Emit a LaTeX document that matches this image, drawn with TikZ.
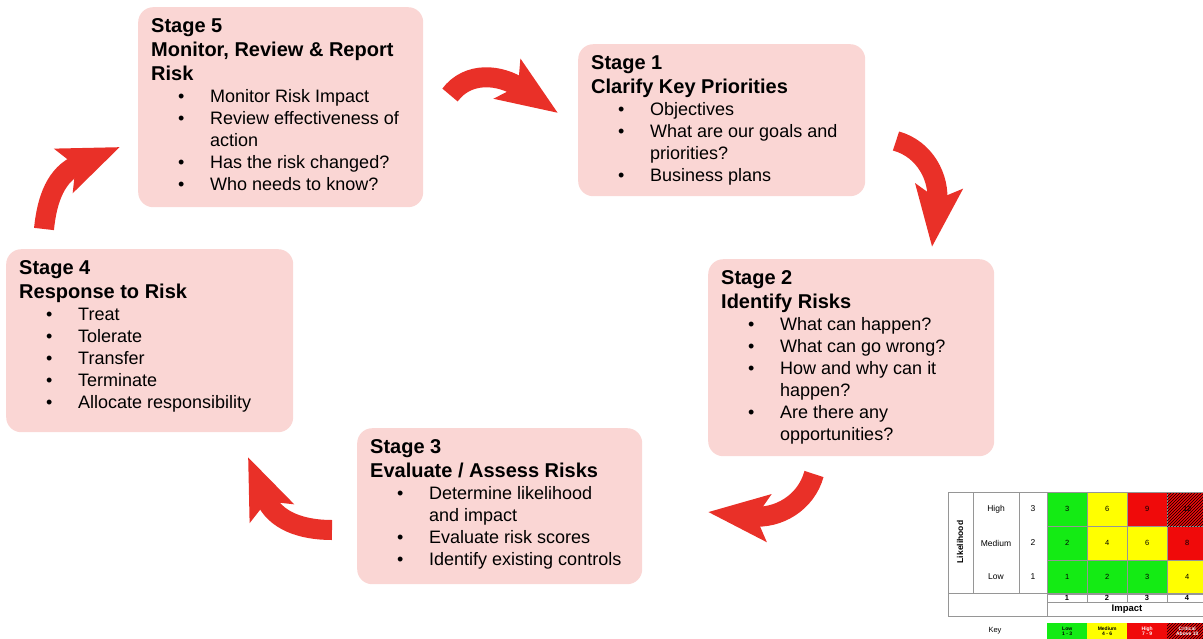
\documentclass[tikz,border=0pt]{standalone}
\usepackage{fontspec}
\setmainfont{Liberation Sans}
\usetikzlibrary{arrows.meta}
\usetikzlibrary{patterns}

\definecolor{stagepink}{RGB}{250,214,212}
\definecolor{arrowred}{RGB}{233,48,40}
\definecolor{riskgreen}{RGB}{20,235,20}
\definecolor{riskyellow}{RGB}{255,255,0}
\definecolor{riskred}{RGB}{240,10,10}
\definecolor{gridgray}{RGB}{150,150,150}

\newcommand{\bul}{\hspace*{27pt}\makebox[32pt][l]{\textbullet}}
\newcommand{\cont}{\hspace*{59pt}}
\newcommand{\hdr}{\fontsize{20}{24}\selectfont\bfseries}

\tikzset{
  stagebox/.style={fill=stagepink, rounded corners=15pt, anchor=north west, inner sep=0pt},
  stagetext/.style={anchor=north west, align=left, inner sep=0pt, xshift=13pt, yshift=-11.5pt,
    font=\fontsize{18}{22}\selectfont},
  riskarrow/.style={draw=arrowred, line width=20pt, -{Stealth[length=60pt,width=46pt,inset=12pt]}},
  riskcell/.style={anchor=north west, minimum width=40pt, minimum height=34pt, inner sep=0pt,
    draw=gridgray, line width=0.4pt, font=\fontsize{7.5}{8}\selectfont},
  keycell/.style={anchor=north west, minimum width=40pt, minimum height=16pt, inner sep=0pt,
    align=center, font=\fontsize{5}{5.5}\selectfont\bfseries},
  risklabel/.style={inner sep=0pt, font=\fontsize{8.5}{9}\selectfont},
  gridline/.style={draw=gridgray, line width=0.5pt}
}

\begin{document}
\begin{tikzpicture}[x=1pt,y=-1pt]
\useasboundingbox (0,0) rectangle (1203,638);

% stage boxes
\node[stagebox, minimum width=285pt, minimum height=200pt] (s5) at (138,7) {};
\node[stagebox, minimum width=287pt, minimum height=152pt] (s1) at (578,44) {};
\node[stagebox, minimum width=286pt, minimum height=197pt] (s2) at (708,259) {};
\node[stagebox, minimum width=285pt, minimum height=156pt] (s3) at (357,428) {};
\node[stagebox, minimum width=287pt, minimum height=183pt] (s4) at (6,249) {};

\node[stagetext] (t5) at (s5.north west) {{\hdr Stage 5}\\[2pt] {\hdr Monitor, Review \& Report}\\[2pt] {\hdr Risk}\\
  \bul Monitor Risk Impact\\ \bul Review effectiveness of\\ \cont action\\
  \bul Has the risk changed?\\ \bul Who needs to know?};
\node[stagetext] (t1) at (s1.north west) {{\hdr Stage 1}\\[2pt] {\hdr Clarify Key Priorities}\\
  \bul Objectives\\ \bul What are our goals and\\ \cont priorities?\\ \bul Business plans};
\node[stagetext] (t2) at (s2.north west) {{\hdr Stage 2}\\[2pt] {\hdr Identify Risks}\\
  \bul What can happen?\\ \bul What can go wrong?\\ \bul How and why can it\\ \cont happen?\\
  \bul Are there any\\ \cont opportunities?};
\node[stagetext] (t3) at (s3.north west) {{\hdr Stage 3}\\[2pt] {\hdr Evaluate / Assess Risks}\\
  \bul Determine likelihood\\ \cont and impact\\ \bul Evaluate risk scores\\ \bul Identify existing controls};
\node[stagetext] (t4) at (s4.north west) {{\hdr Stage 4}\\[2pt] {\hdr Response to Risk}\\
  \bul Treat\\ \bul Tolerate\\ \bul Transfer\\ \bul Terminate\\ \bul Allocate responsibility};

% cycle arrows
\draw[riskarrow] (450,95) .. controls (468,71) and (500,74) .. (558,113);
\draw[riskarrow] (896,141) .. controls (925,149) and (940,178) .. (932,247);
\draw[riskarrow] (814,474) .. controls (806,503) and (778,519) .. (708,512);
\draw[riskarrow] (332,530) .. controls (302,530) and (275,521) .. (248,457);
\draw[riskarrow] (44,229) .. controls (47,199) and (56,174) .. (120,147);

% risk matrix
\begin{scope}
\clip (0,0) rectangle (1203,638);
\foreach \r/\c/\v/\col in {1/1/3/riskgreen, 1/2/6/riskyellow, 1/3/9/riskred,
  2/1/2/riskgreen, 2/2/4/riskyellow, 2/3/6/riskyellow, 2/4/8/riskred,
  3/1/1/riskgreen, 3/2/2/riskgreen, 3/3/3/riskgreen, 3/4/4/riskyellow}
  \node[riskcell, fill=\col] (cell-\r-\c) at ({1007+40*\c},{458+34*\r}) {\v};
\node[riskcell, fill=riskred, postaction={pattern=north east lines}] (cell-1-4) at (1167,492) {12};

\draw[gridline] (948,492) -- (1215,492);
\draw[gridline] (948,492) -- (948,616) -- (1215,616);
\draw[gridline] (973,492) -- (973,593);
\draw[gridline] (1019,492) -- (1019,593);
\draw[gridline] (1047,492) -- (1047,616);
\draw[gridline] (948,593) -- (1215,593);
\draw[gridline] (1047,602) -- (1215,602);
\foreach \x in {1087,1127,1167}
  \draw[gridline] (\x,593) -- (\x,602);

\node[risklabel, rotate=90, font=\fontsize{8.5}{9}\selectfont\bfseries] (likelihood) at (960,542) {Likelihood};
\node[risklabel] (lhigh) at (996,509) {High};
\node[risklabel] (lmed) at (996,543) {Medium};
\node[risklabel] (llow) at (996,577) {Low};
\node[risklabel] (n3) at (1033,509) {3};
\node[risklabel] (n2) at (1033,543) {2};
\node[risklabel] (n1) at (1033,577) {1};
\foreach \c in {1,...,4}
  \node[risklabel, font=\fontsize{7.5}{8}\selectfont\bfseries] (imp\c) at ({1027+40*\c},598) {\c};
\node[risklabel, font=\fontsize{9.5}{10}\selectfont\bfseries] (impact) at (1127,609.5) {Impact};

\node[risklabel, font=\fontsize{7.5}{8}\selectfont] (key) at (995,631) {Key};
\node[keycell, fill=riskgreen] (klow) at (1047,623) {Low\\1 - 3};
\node[keycell, fill=riskyellow] (kmed) at (1087,623) {Medium\\4 - 6};
\node[keycell, fill=riskred, text=white] (khigh) at (1127,623) {High\\7 - 9};
\node[keycell, fill=riskred, text=white, postaction={pattern=north east lines}] (kcrit) at (1167,623) {Critical\\Above 10};
\end{scope}
\end{tikzpicture}
\end{document}
